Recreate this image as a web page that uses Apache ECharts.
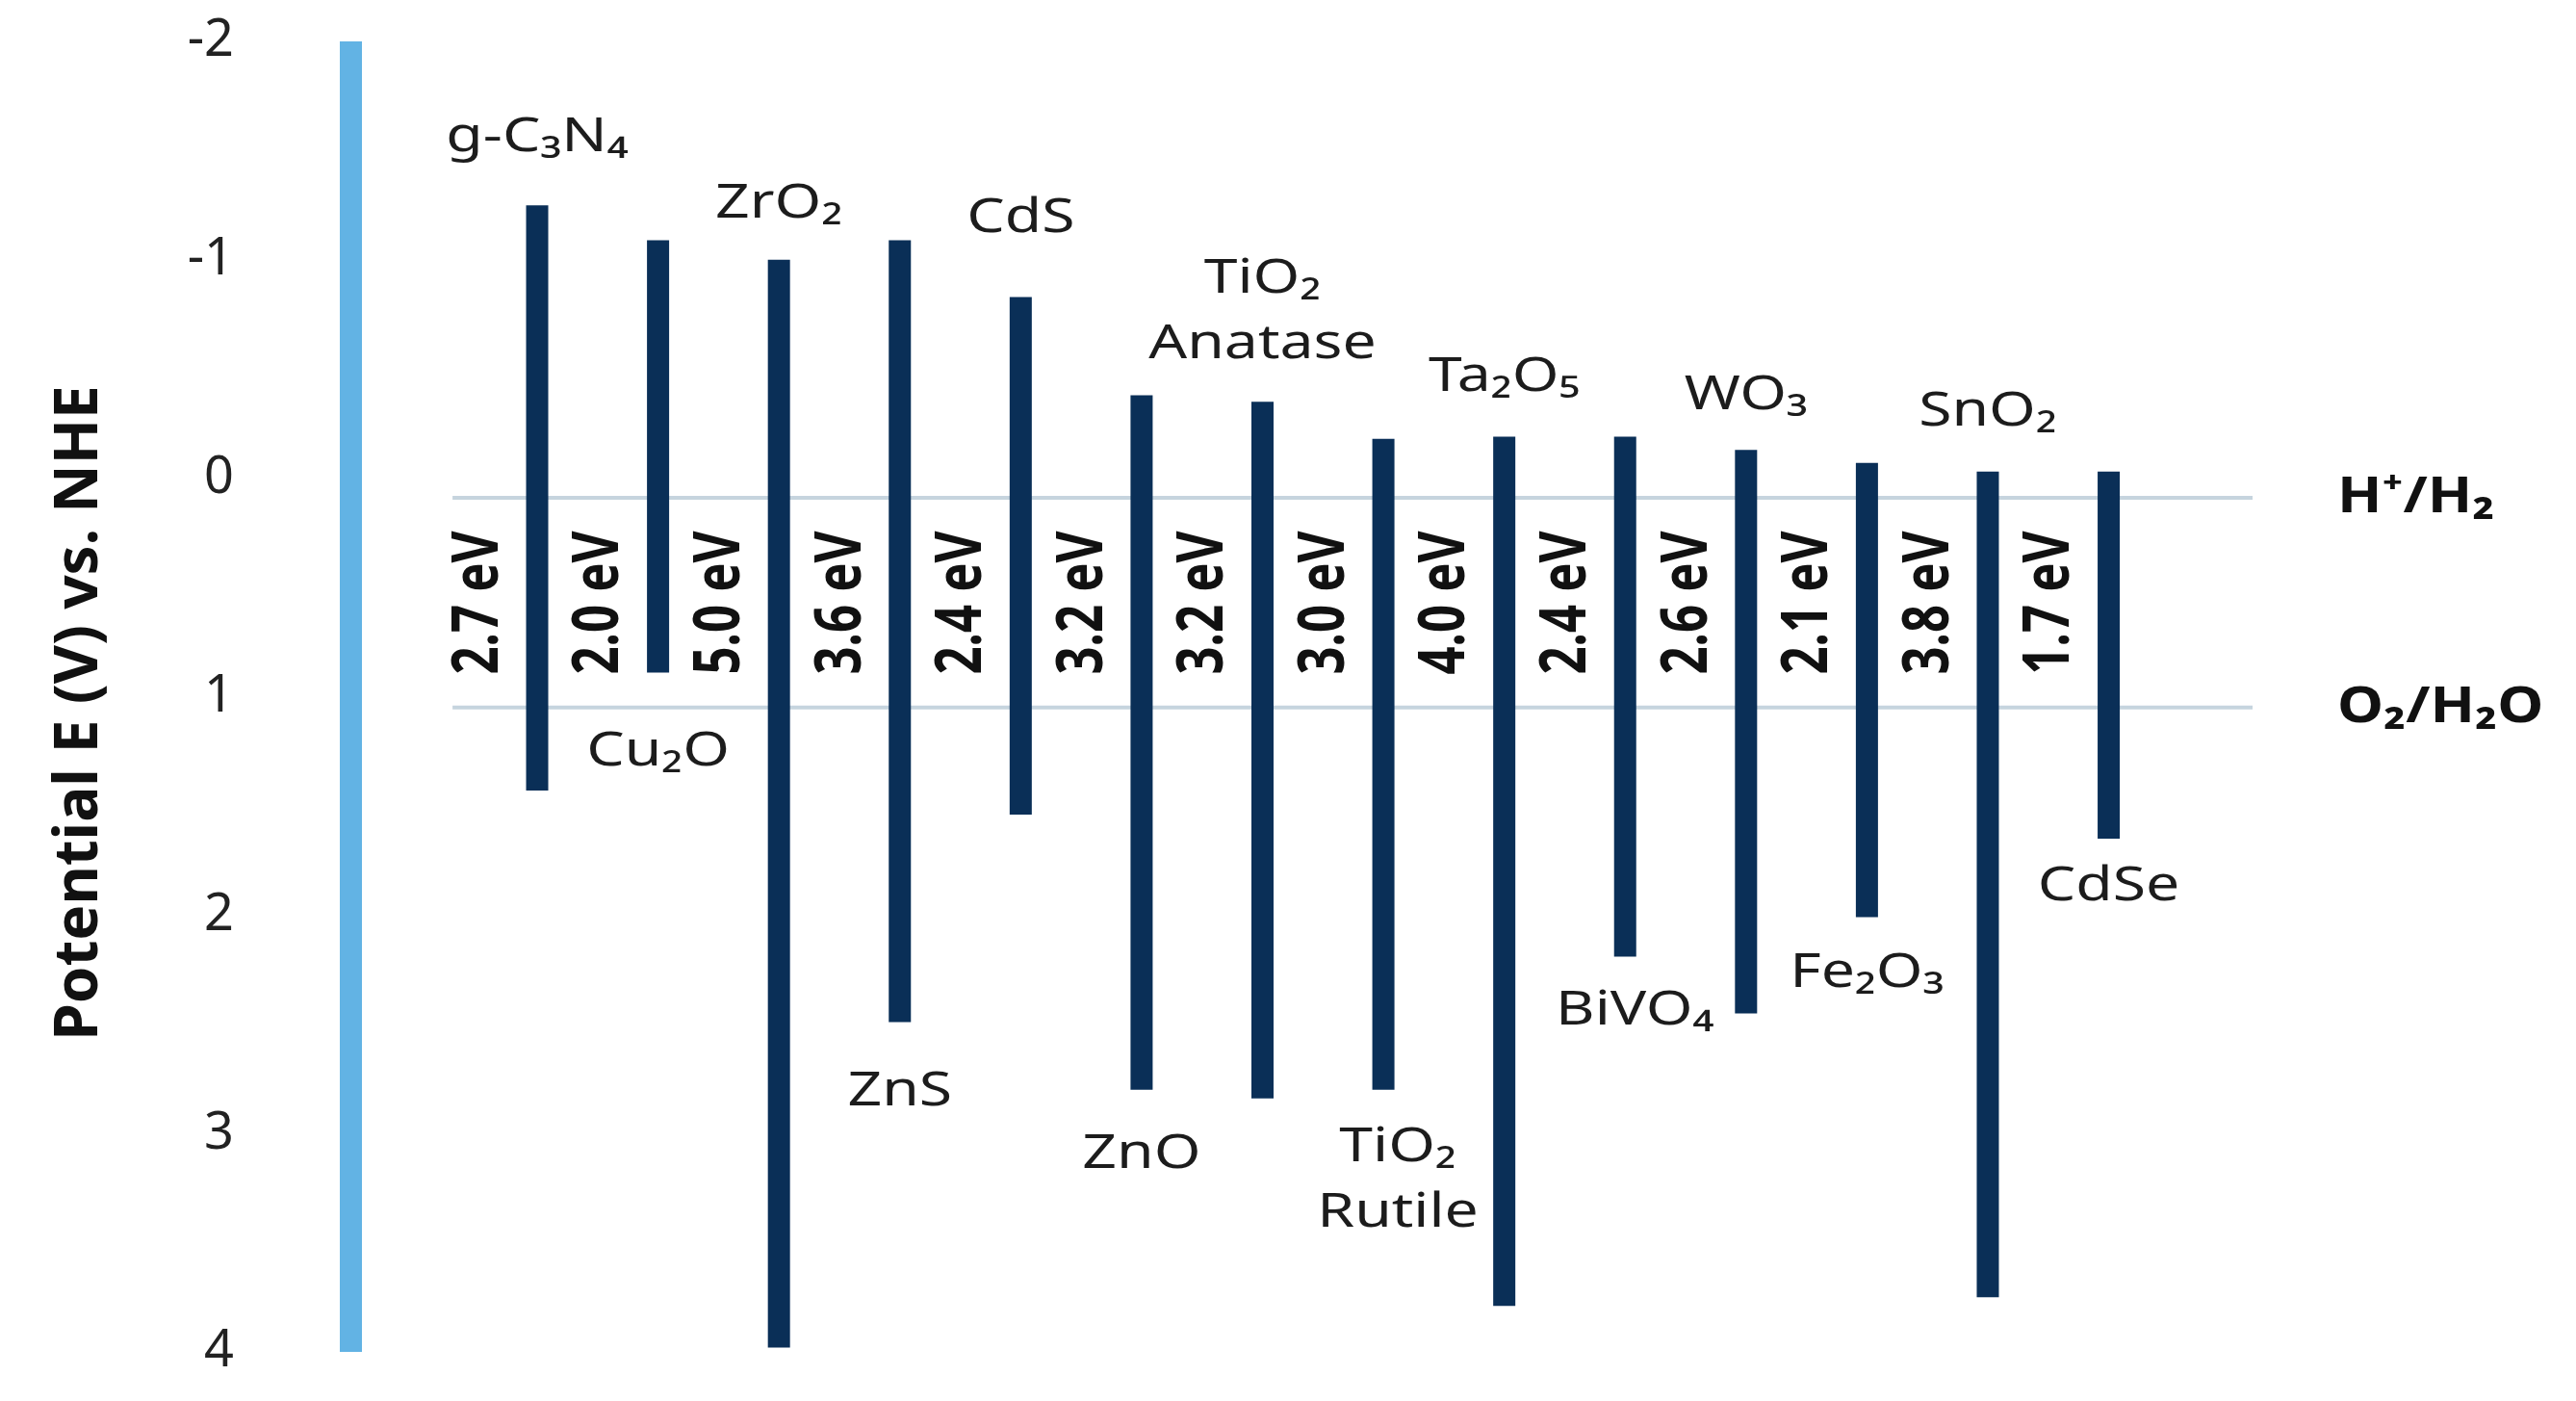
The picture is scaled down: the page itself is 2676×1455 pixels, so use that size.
<!DOCTYPE html>
<html>
<head>
<meta charset="utf-8">
<script src="https://cdn.jsdelivr.net/npm/echarts@6/dist/echarts.min.js"></script>
<style>
html,body{margin:0;padding:0;background:#ffffff;}
#chart{width:2676px;height:1455px;}
</style>
</head>
<body>
<div id="chart"></div>
<script>
// ---------------- data ----------------
const categories = ['g-C₃N₄', 'Cu₂O', 'ZrO₂', 'ZnS', 'CdS', 'ZnO', 'TiO₂\nAnatase', 'TiO₂\nRutile',
                    'Ta₂O₅', 'BiVO₄', 'WO₃', 'Fe₂O₃', 'SnO₂', 'CdSe'];
// conduction band edge (top of bar), V vs NHE
const cbEdge = [-1.25, -1.09, -1.00, -1.09, -0.83, -0.38, -0.35, -0.18, -0.19, -0.19, -0.13, -0.07, -0.03, -0.03];
// valence band edge (bottom of bar), V vs NHE
const vbEdge = [1.43, 0.89, 3.98, 2.49, 1.54, 2.80, 2.84, 2.80, 3.79, 2.19, 2.45, 2.01, 3.75, 1.65];
const gapLabels = ['2.7 eV', '2.0 eV', '5.0 eV', '3.6 eV', '2.4 eV', '3.2 eV', '3.2 eV', '3.0 eV',
                   '4.0 eV', '2.4 eV', '2.6 eV', '2.1 eV', '3.8 eV', '1.7 eV'];
const refNames = ['H⁺/H₂', 'O₂/H₂O'];
const refValues = [0.09, 1.05];
const yMin = -2, yMax = 4, yStep = 1;
const yTitle = 'Potential E (V) vs. NHE';

// ---------------- layout / style ----------------
const FONT = "'Noto Sans', 'DejaVu Sans', sans-serif";
const BAR_COLOR = '#0a2f57';
const AXIS_COLOR = '#62b3e4';
const REF_COLOR = '#c6d4de';
const BAR_W = 23;
const X_MIN = -1.545, X_MAX = 14.19, X_LINE_START = -0.70;
const LABEL_GAP = [70, 82, 58, 72, 82, 67, 60, 60, 62, 56, 56, 58, 62, 50];
const LABEL_DX  = [0, 0, 0, 0, 0, 0, 0, 15, 0, 10, 0, 0, 0, 0];
const LH = 68;
const EV_DX = -60;

const bandData = categories.map((c, i) => [i, cbEdge[i], vbEdge[i]]);
const refData = refValues.map((v, i) => [i, v]);

function renderBand(params, api) {
  const idx = params.dataIndex;
  const i = api.value(0);
  const top = api.coord([i, api.value(1)]);
  const bot = api.coord([i, api.value(2)]);
  const x = top[0];
  const above = idx % 2 === 0;
  const gap = LABEL_GAP[idx];
  const mid = api.coord([i, (refValues[0] + refValues[1]) / 2]);
  return {
    type: 'group',
    children: [
      {
        type: 'rect',
        shape: { x: x - BAR_W / 2, y: top[1], width: BAR_W, height: bot[1] - top[1] },
        style: { fill: BAR_COLOR }
      },
      {
        type: 'text',
        x: x + LABEL_DX[idx],
        y: above ? top[1] - gap + LH / 2 : bot[1] + gap - LH / 2,
        scaleX: 1.25,
        style: {
          text: categories[idx], fontSize: 50, fontFamily: FONT, fill: '#1c1c1c',
          align: 'center', verticalAlign: above ? 'bottom' : 'top', lineHeight: LH
        }
      },
      {
        type: 'text',
        x: x + EV_DX,
        y: mid[1],
        rotation: Math.PI / 2,
        scaleX: 0.77,
        style: {
          text: gapLabels[idx], fontSize: 66, fontWeight: 'bold', fontFamily: FONT, fill: '#111111',
          align: 'center', verticalAlign: 'middle'
        }
      }
    ]
  };
}

function renderRef(params, api) {
  const idx = params.dataIndex;
  const v = api.value(1);
  const p0 = api.coord([X_LINE_START, v]);
  const p1 = api.coord([X_MAX, v]);
  return {
    type: 'group',
    children: [
      {
        type: 'line',
        shape: { x1: p0[0], y1: p0[1], x2: p1[0], y2: p1[1] },
        style: { stroke: REF_COLOR, lineWidth: 4 }
      },
      {
        type: 'text',
        x: p1[0] + 88,
        y: p1[1],
        scaleX: 1.17,
        style: {
          text: refNames[idx], fontSize: 52, fontWeight: 'bold', fontFamily: FONT, fill: '#111111',
          align: 'left', verticalAlign: 'middle'
        }
      }
    ]
  };
}

const chart = echarts.init(document.getElementById('chart'), null, { renderer: 'canvas' });
chart.setOption({
  animation: false,
  backgroundColor: '#ffffff',
  grid: { left: 364, top: 43, right: 336, bottom: 51, containLabel: false },
  xAxis: {
    type: 'value', min: X_MIN, max: X_MAX, show: false
  },
  yAxis: {
    type: 'value', inverse: true, min: yMin, max: yMax, interval: yStep,
    name: yTitle, nameLocation: 'middle', nameGap: 250,
    nameTextStyle: { fontSize: 62, fontWeight: 'bold', color: '#111111', fontFamily: FONT, padding: [0, 34, 0, 0] },
    axisLine: { show: true, onZero: false, lineStyle: { color: AXIS_COLOR, width: 23, cap: 'butt' } },
    axisTick: { show: false },
    splitLine: { show: false },
    axisLabel: { margin: 121, fontSize: 54, color: '#222222', fontFamily: FONT }
  },
  series: [
    {
      type: 'custom', name: 'redox', z: 1,
      renderItem: renderRef,
      encode: { x: 0, y: 1 },
      data: refData,
      silent: true
    },
    {
      type: 'custom', name: 'bands', z: 2,
      renderItem: renderBand,
      encode: { x: 0, y: [1, 2] },
      data: bandData
    }
  ]
});
</script>
</body>
</html>
